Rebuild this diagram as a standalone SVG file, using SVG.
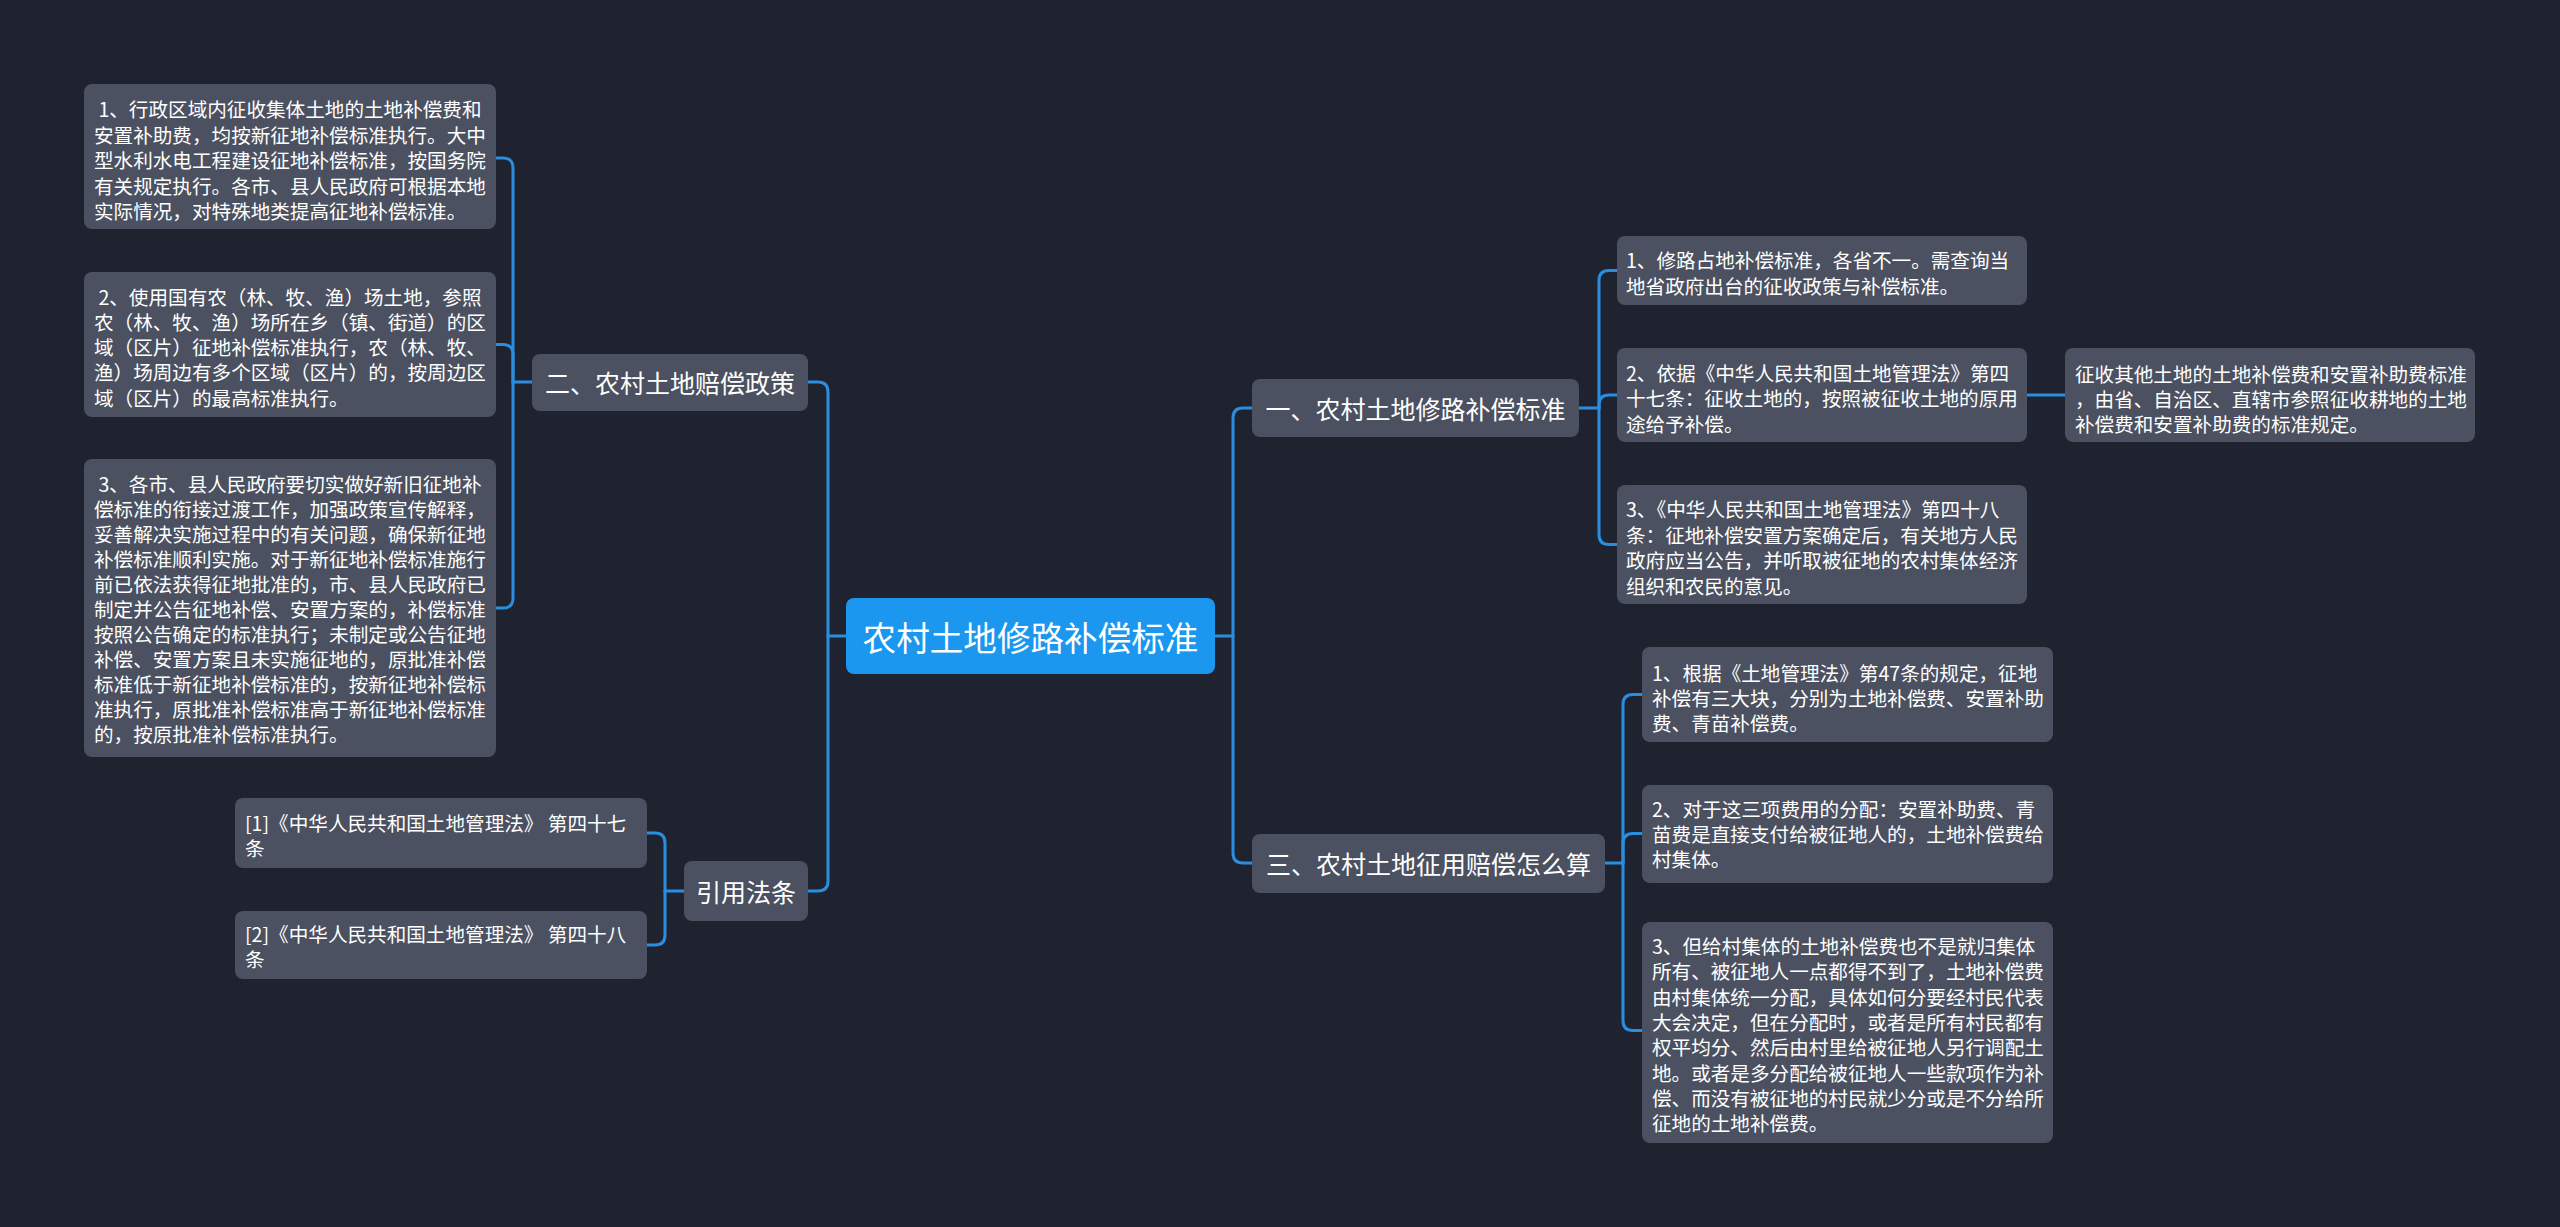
<svg xmlns="http://www.w3.org/2000/svg" width="2560" height="1227" viewBox="0 0 2560 1227">
<style>
text{font-family:"Noto Sans CJK SC","Noto Sans",sans-serif;fill:#ffffff;dominant-baseline:central}
.leaf rect{fill:#4b5160}
.leaf text{font-size:19.6px}
.main rect{fill:#4b5160}
.main text{font-size:25px;text-anchor:middle}
.root rect{fill:#1b97ef}
.root text{font-size:33.6px;text-anchor:middle}
#connectors path{fill:none;stroke:#2a8de0;stroke-width:3;stroke-linecap:round}
</style>
<rect width="2560" height="1227" fill="#1f2330"/>
<g id="connectors">
<path d="M846,636 H828"/>
<path d="M828,636 V392 Q828,382 818,382 H808"/>
<path d="M828,636 V881 Q828,891 818,891 H808"/>
<path d="M1215,636 H1233"/>
<path d="M1233,636 V418 Q1233,408 1243,408 H1252"/>
<path d="M1233,636 V853 Q1233,863 1243,863 H1252"/>
<path d="M532,382 H513"/>
<path d="M513,382 V168 Q513,158 503,158 H496"/>
<path d="M513,382 V354.5 Q513,344.5 503,344.5 H496"/>
<path d="M513,382 V598 Q513,608 503,608 H496"/>
<path d="M684,891 H665"/>
<path d="M665,891 V843 Q665,833 655,833 H647"/>
<path d="M665,891 V935 Q665,945 655,945 H647"/>
<path d="M1579,408 H1599"/>
<path d="M1599,408 V280.5 Q1599,270.5 1609,270.5 H1617"/>
<path d="M1599,408 V405 Q1599,395 1609,395 H1617"/>
<path d="M1599,408 V534.5 Q1599,544.5 1609,544.5 H1617"/>
<path d="M2027,395 H2065"/>
<path d="M1605,863 H1623"/>
<path d="M1623,863 V704.5 Q1623,694.5 1633,694.5 H1642"/>
<path d="M1623,863 V843.5 Q1623,833.5 1633,833.5 H1642"/>
<path d="M1623,863 V1020.5 Q1623,1030.5 1633,1030.5 H1642"/>
</g>
<g id="root" class="root">
<rect x="846" y="598" width="369" height="76" rx="8"/>
<text x="1030.5" y="636">农村土地修路补偿标准</text>
</g>
<g id="n2" class="main">
<rect x="532" y="354" width="276" height="57" rx="8"/>
<text x="670" y="382">二、农村土地赔偿政策</text>
</g>
<g id="nref" class="main">
<rect x="684" y="861" width="124" height="60" rx="8"/>
<text x="746" y="891">引用法条</text>
</g>
<g id="n1" class="main">
<rect x="1252" y="379" width="327" height="58" rx="8"/>
<text x="1415.5" y="408">一、农村土地修路补偿标准</text>
</g>
<g id="n3" class="main">
<rect x="1252" y="834" width="353" height="59" rx="8"/>
<text x="1428.5" y="863">三、农村土地征用赔偿怎么算</text>
</g>
<g id="n2a" class="leaf">
<rect x="84" y="84" width="412" height="145" rx="8"/>
<text x="94" xml:space="preserve"><tspan x="94" y="108"> 1、行政区域内征收集体土地的土地补偿费和</tspan><tspan x="94" y="133.5">安置补助费，均按新征地补偿标准执行。大中</tspan><tspan x="94" y="159">型水利水电工程建设征地补偿标准，按国务院</tspan><tspan x="94" y="184.5">有关规定执行。各市、县人民政府可根据本地</tspan><tspan x="94" y="210">实际情况，对特殊地类提高征地补偿标准。</tspan></text>
</g>
<g id="n2b" class="leaf">
<rect x="84" y="272" width="412" height="145" rx="8"/>
<text xml:space="preserve"><tspan x="94" y="295.5"> 2、使用国有农（林、牧、渔）场土地，参照</tspan><tspan x="94" y="320.8">农（林、牧、渔）场所在乡（镇、街道）的区</tspan><tspan x="94" y="346.1">域（区片）征地补偿标准执行，农（林、牧、</tspan><tspan x="94" y="371.4">渔）场周边有多个区域（区片）的，按周边区</tspan><tspan x="94" y="396.7">域（区片）的最高标准执行。</tspan></text>
</g>
<g id="n2c" class="leaf">
<rect x="84" y="459" width="412" height="298" rx="8"/>
<text xml:space="preserve"><tspan x="94" y="483"> 3、各市、县人民政府要切实做好新旧征地补</tspan><tspan x="94" y="508">偿标准的衔接过渡工作，加强政策宣传解释，</tspan><tspan x="94" y="533">妥善解决实施过程中的有关问题，确保新征地</tspan><tspan x="94" y="558">补偿标准顺利实施。对于新征地补偿标准施行</tspan><tspan x="94" y="583">前已依法获得征地批准的，市、县人民政府已</tspan><tspan x="94" y="608">制定并公告征地补偿、安置方案的，补偿标准</tspan><tspan x="94" y="633">按照公告确定的标准执行；未制定或公告征地</tspan><tspan x="94" y="658">补偿、安置方案且未实施征地的，原批准补偿</tspan><tspan x="94" y="683">标准低于新征地补偿标准的，按新征地补偿标</tspan><tspan x="94" y="708">准执行，原批准补偿标准高于新征地补偿标准</tspan><tspan x="94" y="733">的，按原批准补偿标准执行。</tspan></text>
</g>
<g id="ref1" class="leaf">
<rect x="235" y="798" width="412" height="70" rx="8"/>
<text><tspan x="245" y="822">[1]《中华人民共和国土地管理法》 第四十七</tspan><tspan x="245" y="847">条</tspan></text>
</g>
<g id="ref2" class="leaf">
<rect x="235" y="911" width="412" height="68" rx="8"/>
<text><tspan x="245" y="933">[2]《中华人民共和国土地管理法》 第四十八</tspan><tspan x="245" y="958">条</tspan></text>
</g>
<g id="n1a" class="leaf">
<rect x="1617" y="236" width="410" height="69" rx="8"/>
<text><tspan x="1626" y="259">1、修路占地补偿标准，各省不一。需查询当</tspan><tspan x="1626" y="285">地省政府出台的征收政策与补偿标准。</tspan></text>
</g>
<g id="n1b" class="leaf">
<rect x="1617" y="348" width="410" height="94" rx="8"/>
<text><tspan x="1626" y="372">2、依据《中华人民共和国土地管理法》第四</tspan><tspan x="1626" y="397">十七条：征收土地的，按照被征收土地的原用</tspan><tspan x="1626" y="423">途给予补偿。</tspan></text>
</g>
<g id="n1b1" class="leaf">
<rect x="2065" y="348" width="410" height="94" rx="8"/>
<text><tspan x="2075" y="373">征收其他土地的土地补偿费和安置补助费标准</tspan><tspan x="2075" y="398">，由省、自治区、直辖市参照征收耕地的土地</tspan><tspan x="2075" y="423">补偿费和安置补助费的标准规定。</tspan></text>
</g>
<g id="n1c" class="leaf">
<rect x="1617" y="485" width="410" height="119" rx="8"/>
<text><tspan x="1626" y="508">3、《中华人民共和国土地管理法》第四十八</tspan><tspan x="1626" y="533.5">条：征地补偿安置方案确定后，有关地方人民</tspan><tspan x="1626" y="559">政府应当公告，并听取被征地的农村集体经济</tspan><tspan x="1626" y="584.5">组织和农民的意见。</tspan></text>
</g>
<g id="n3a" class="leaf">
<rect x="1642" y="647" width="411" height="95" rx="8"/>
<text><tspan x="1652" y="672">1、根据《土地管理法》第47条的规定，征地</tspan><tspan x="1652" y="697">补偿有三大块，分别为土地补偿费、安置补助</tspan><tspan x="1652" y="722">费、青苗补偿费。</tspan></text>
</g>
<g id="n3b" class="leaf">
<rect x="1642" y="785" width="411" height="98" rx="8"/>
<text><tspan x="1652" y="808">2、对于这三项费用的分配：安置补助费、青</tspan><tspan x="1652" y="833">苗费是直接支付给被征地人的，土地补偿费给</tspan><tspan x="1652" y="858">村集体。</tspan></text>
</g>
<g id="n3c" class="leaf">
<rect x="1642" y="922" width="411" height="221" rx="8"/>
<text><tspan x="1652" y="945">3、但给村集体的土地补偿费也不是就归集体</tspan><tspan x="1652" y="970.3">所有、被征地人一点都得不到了，土地补偿费</tspan><tspan x="1652" y="995.6">由村集体统一分配，具体如何分要经村民代表</tspan><tspan x="1652" y="1020.9">大会决定，但在分配时，或者是所有村民都有</tspan><tspan x="1652" y="1046.2">权平均分、然后由村里给被征地人另行调配土</tspan><tspan x="1652" y="1071.5">地。或者是多分配给被征地人一些款项作为补</tspan><tspan x="1652" y="1096.8">偿、而没有被征地的村民就少分或是不分给所</tspan><tspan x="1652" y="1122">征地的土地补偿费。</tspan></text>
</g>
</svg>
